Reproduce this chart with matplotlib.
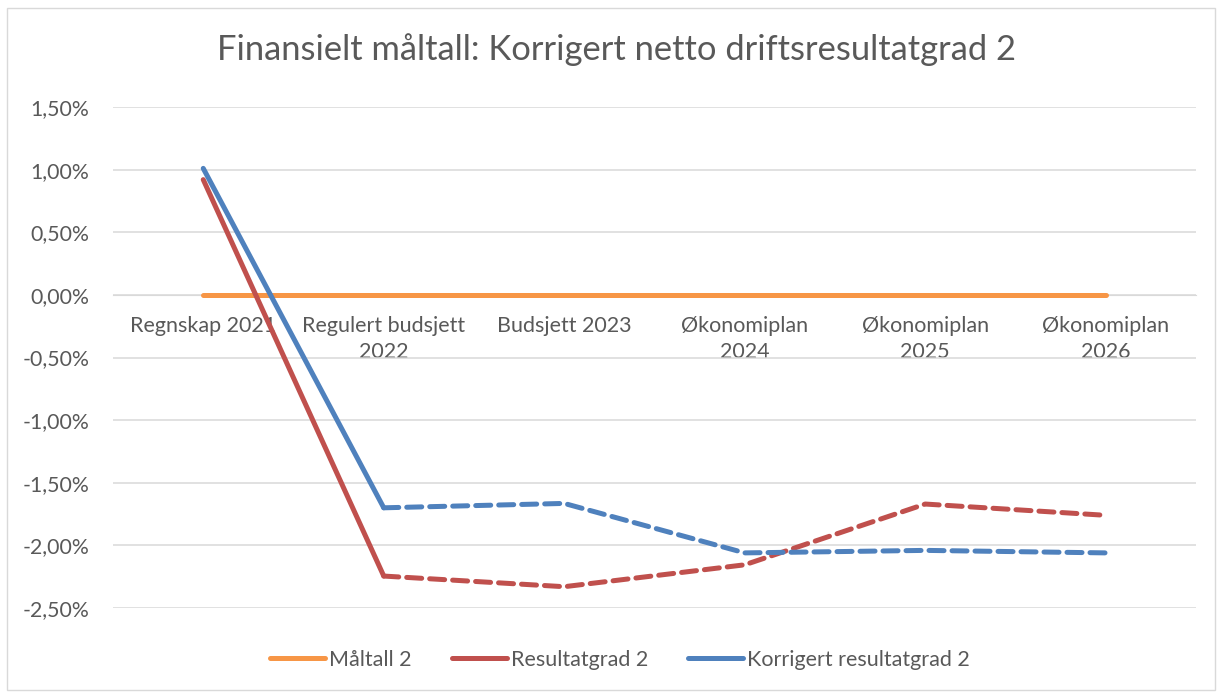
import matplotlib
matplotlib.use("Agg")
import matplotlib.pyplot as plt
from matplotlib.patches import Rectangle
from matplotlib.ticker import FuncFormatter

categories = ["Regnskap 2021", "Regulert budsjett\n2022", "Budsjett 2023",
              "Økonomiplan\n2024", "Økonomiplan\n2025", "Økonomiplan\n2026"]
maltall = [0.0, 0.0, 0.0, 0.0, 0.0, 0.0]
resultatgrad = [0.92, -2.245, -2.33, -2.155, -1.67, -1.76]
korrigert = [1.01, -1.70, -1.665, -2.06, -2.04, -2.06]

plt.rcParams['font.family'] = ['Lato', 'DejaVu Sans']
TXT = '#595959'
ORANGE = '#F79646'
RED = '#C0504D'
BLUE = '#4F81BD'

fig = plt.figure(figsize=(12.2, 6.95), dpi=100)
fig.patches.append(Rectangle((7/1220, 5/695), 1208/1220, 682/695, transform=fig.transFigure,
                             fill=False, edgecolor='#D9D9D9', lw=1))
ax = fig.add_axes([113/1220, 1-608/695, (1196-113)/1220, (608-107)/695])

x = list(range(len(categories)))
ax.plot(x, maltall, color=ORANGE, lw=3.6, solid_capstyle='round', zorder=3, label='Måltall 2')

for vals, col, lab in [(resultatgrad, RED, 'Resultatgrad 2'), (korrigert, BLUE, 'Korrigert resultatgrad 2')]:
    ax.plot(x[:2], vals[:2], color=col, lw=3.6, solid_capstyle='round', zorder=4)
    ax.plot(x[1:], vals[1:], color=col, lw=3.6, linestyle=(0, (3.0, 1.6)), dash_capstyle='round', zorder=4)
    ax.plot([], [], color=col, lw=3.6, solid_capstyle='round', label=lab)

ax.set_xlim(-0.5, len(categories) - 0.5)
ax.set_ylim(-2.5, 1.5)
ax.set_yticks([1.5, 1.0, 0.5, 0.0, -0.5, -1.0, -1.5, -2.0, -2.5])
ax.yaxis.set_major_formatter(FuncFormatter(lambda v, p: f"{v:.2f}%".replace('.', ',')))
ax.grid(axis='y', color='#D9D9D9', lw=1.1)
ax.set_axisbelow(True)
for s in ['top', 'right', 'left']:
    ax.spines[s].set_visible(False)
ax.spines['bottom'].set_position(('data', 0))
ax.spines['bottom'].set_color('#D9D9D9')
ax.set_xticks(x)
ax.set_xticklabels(categories, fontsize=15.5, color=TXT, linespacing=1.42)
ax.tick_params(axis='x', length=0, pad=15)
ax.tick_params(axis='y', length=0, pad=17, labelsize=15.3, labelcolor=TXT)

fig.text(616/1220, 1-50/695, "Finansielt måltall: Korrigert netto driftsresultatgrad 2",
         ha='center', va='center', fontsize=24.8, color=TXT)

leg = fig.legend(loc='center', bbox_to_anchor=(620/1220, 1-660/695), ncol=3, frameon=False,
                 fontsize=15.5, handlelength=2.55, handletextpad=0.2, columnspacing=1.85)
for t in leg.get_texts():
    t.set_color(TXT)

fig.savefig("out.png", dpi=100)
